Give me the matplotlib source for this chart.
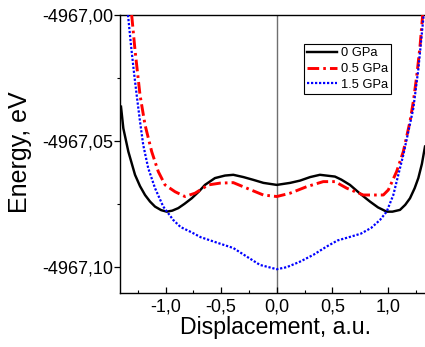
import numpy as np
import matplotlib
matplotlib.use("Agg")
import matplotlib.pyplot as plt
from matplotlib.ticker import FuncFormatter, MultipleLocator

plt.rcParams['font.family'] = ['Liberation Sans', 'DejaVu Sans']

# energy = base + offset (eV)
base = -4967.0

# 0 GPa
x0 = [-1.401, -1.380, -1.335, -1.275, -1.230, -1.185, -1.140, -1.095, -1.040, -0.990, -0.940, -0.886,
      -0.830, -0.765, -0.700, -0.646, -0.556, -0.466, -0.391, -0.300, -0.211, -0.120, 0.0,
      0.120, 0.209, 0.300, 0.388, 0.523, 0.580, 0.658, 0.750, 0.838, 0.910, 0.988, 1.040,
      1.108, 1.155, 1.198, 1.240, 1.273, 1.305, 1.333]
e0 = [-0.0363, -0.0449, -0.0541, -0.0633, -0.0678, -0.0713, -0.0739, -0.0759, -0.0773, -0.0779, -0.0775, -0.0765,
      -0.0748, -0.0726, -0.0699, -0.0673, -0.0646, -0.0636, -0.0633, -0.0642, -0.0653, -0.0665, -0.0673,
      -0.0665, -0.0656, -0.0642, -0.0633, -0.0640, -0.0652, -0.0673, -0.0708, -0.0739, -0.0762, -0.0779, -0.0779,
      -0.0772, -0.0752, -0.0726, -0.0686, -0.0646, -0.0590, -0.0521]

# 0.5 GPa
x05 = [-1.305, -1.275, -1.230, -1.185, -1.125, -1.066, -1.005, -0.915, -0.826, -0.736, -0.616,
       -0.511, -0.391, -0.270, -0.121, 0.0, 0.119, 0.269, 0.418, 0.523, 0.629, 0.778, 0.958,
       1.003, 1.078, 1.138, 1.198, 1.228, 1.258, 1.288, 1.312]
e05 = [0.0, -0.0139, -0.0317, -0.0435, -0.0541, -0.0620, -0.0673, -0.0700, -0.0719, -0.0706, -0.0673,
       -0.0666, -0.0664, -0.0686, -0.0713, -0.0719, -0.0706, -0.0680, -0.0660, -0.0660, -0.0686, -0.0713, -0.0713,
       -0.0693, -0.0620, -0.0541, -0.0422, -0.0343, -0.0244, -0.0125, 0.0]

# 1.5 GPa
x15 = [-1.338, -1.310, -1.285, -1.260, -1.230, -1.201, -1.156, -1.095, -1.021, -0.931, -0.865,
       -0.770, -0.685, -0.550, -0.391, -0.270, -0.151, 0.0, 0.089, 0.209, 0.329, 0.449, 0.547,
       0.650, 0.757, 0.850, 0.928, 0.988, 1.048, 1.093, 1.138, 1.183, 1.228, 1.273, 1.321]
e15 = [0.0, -0.0125, -0.0225, -0.0317, -0.0422, -0.0515, -0.0607, -0.0686, -0.0759, -0.0812, -0.0840,
       -0.0860, -0.0880, -0.0900, -0.0923, -0.0957, -0.0990, -0.1007, -0.0999, -0.0977, -0.0950, -0.0917, -0.0893,
       -0.0880, -0.0866, -0.0843, -0.0812, -0.0779, -0.0713, -0.0633, -0.0554, -0.0462, -0.0370, -0.0215, 0.0]

labels = ["0 GPa", "0.5 GPa", "1.5 GPa"]

fig = plt.figure(figsize=(4.25, 3.47), dpi=100)
ax = fig.add_axes([120 / 425, 1 - 292.7 / 347, 305 / 425, 277.7 / 347])

ax.axvline(0, color='#6f6f6f', lw=1.0, zorder=1)
ax.plot(x0, base + np.array(e0), color='black', lw=1.75, label=labels[0], zorder=3,
        solid_joinstyle='round')
ax.plot(x05, base + np.array(e05), color='#ff0000', lw=2.1, ls=(0, (4.0, 1.4, 0.9, 1.4)),
        label=labels[1], zorder=3)
ax.plot(x15, base + np.array(e15), color='#0000ff', lw=1.6, ls=(0, (1, 0.8)),
        label=labels[2], zorder=3)

ax.set_xlim(-1.41, 1.333)
ax.set_ylim(-4967.11, -4967.0)

ax.xaxis.set_major_locator(MultipleLocator(0.5))
ax.xaxis.set_minor_locator(MultipleLocator(0.25))
ax.yaxis.set_major_locator(MultipleLocator(0.05))
ax.yaxis.set_minor_locator(MultipleLocator(0.025))
ax.xaxis.set_major_formatter(FuncFormatter(lambda v, p: f"{v:.1f}".replace('.', ',').replace('-0,0', '0,0')))
ax.yaxis.set_major_formatter(FuncFormatter(lambda v, p: f"{v:.2f}".replace('.', ',')))

ax.tick_params(axis='x', which='major', direction='in', length=4, width=0.9, labelsize=13, pad=4)
ax.tick_params(axis='x', which='minor', direction='in', length=2.5, width=0.8)
ax.tick_params(axis='y', which='major', direction='out', length=4, width=0.9, labelsize=13, pad=1)
ax.tick_params(axis='y', which='minor', direction='out', length=2.5, width=0.8)

ax.spines['right'].set_visible(False)
for s in ['left', 'top', 'bottom']:
    ax.spines[s].set_linewidth(1.0)

ax.set_xlabel("Displacement, a.u.", fontsize=16.7)
ax.set_ylabel("Energy, eV", fontsize=18)
ax.xaxis.set_label_coords(0.511, -0.085)
ax.yaxis.set_label_coords(-0.289, 0.507)

leg = ax.legend(loc='upper left', bbox_to_anchor=(0.603, 0.896), borderaxespad=0,
                fontsize=9.3, fancybox=False, framealpha=1, edgecolor='black',
                handlelength=2.3, handletextpad=0.3, labelspacing=0.3, borderpad=0.25)
leg.get_frame().set_linewidth(0.8)

fig.savefig("out.png", dpi=100)
